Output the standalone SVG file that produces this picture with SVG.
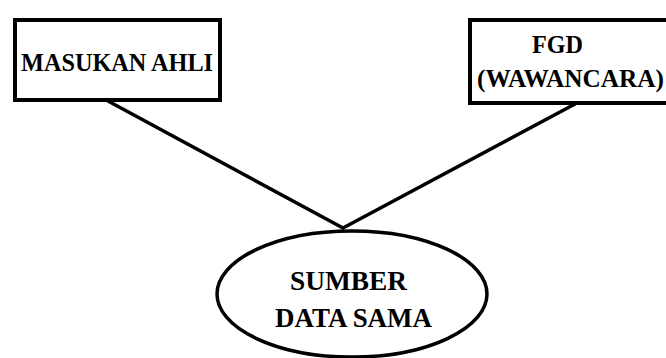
<svg xmlns="http://www.w3.org/2000/svg" width="666" height="358" viewBox="0 0 666 358">
<style>
.box{fill:#fff;stroke:#000;stroke-width:4}
.ell{fill:#fff;stroke:#000;stroke-width:3.5}
.con{stroke:#000;stroke-width:3.5;fill:none;stroke-linecap:round}
.t{font-family:"Liberation Serif","Times New Roman",serif;font-weight:bold;fill:#000}
</style>
<rect width="666" height="358" fill="#fff"/>
<g id="connectors">
<line class="con" x1="108" y1="101" x2="343" y2="228"/>
<line class="con" x1="575" y1="104" x2="343" y2="228"/>
</g>
<g id="masukan-ahli">
<rect class="box" x="15" y="20" width="205" height="80"/>
<text class="t" x="21" y="71" font-size="25" textLength="192" lengthAdjust="spacingAndGlyphs">MASUKAN AHLI</text>
</g>
<g id="fgd">
<rect class="box" x="470" y="20" width="210" height="83"/>
<text class="t" x="532" y="53" font-size="25" textLength="51" lengthAdjust="spacingAndGlyphs">FGD</text>
<text class="t" x="477" y="87" font-size="25" textLength="187" lengthAdjust="spacingAndGlyphs">(WAWANCARA)</text>
</g>
<g id="sumber-data-sama">
<ellipse class="ell" cx="352" cy="294" rx="135" ry="63"/>
<text class="t" x="290" y="290" font-size="28" textLength="117" lengthAdjust="spacingAndGlyphs">SUMBER</text>
<text class="t" x="275" y="327" font-size="28" textLength="157" lengthAdjust="spacingAndGlyphs">DATA SAMA</text>
</g>
</svg>
